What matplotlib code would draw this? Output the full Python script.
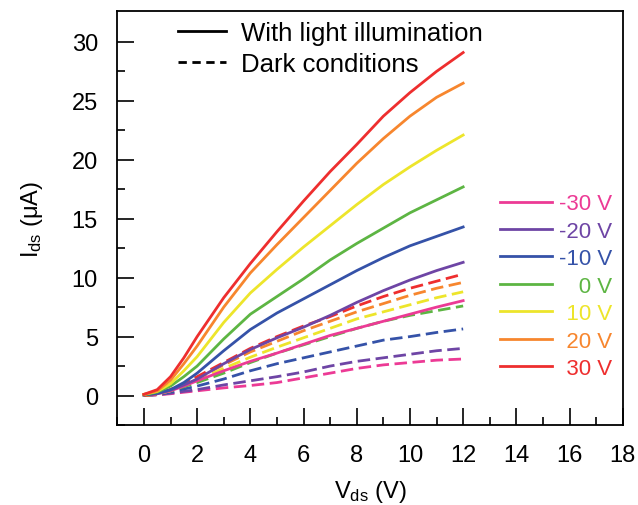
import matplotlib
matplotlib.use("Agg")
from matplotlib import pyplot as plt
from matplotlib.lines import Line2D

plt.rcParams['font.family'] = ['Liberation Sans', 'DejaVu Sans']
plt.rcParams['mathtext.fontset'] = 'custom'
plt.rcParams['mathtext.rm'] = 'Liberation Sans'
plt.rcParams['mathtext.it'] = 'Liberation Sans'

# Vds (V)
vds = [0, 0.5, 1, 1.5, 2, 3, 4, 5, 6, 7, 8, 9, 10, 11, 12]

# gate voltages and colours
gates = ['-30 V', '-20 V', '-10 V', '0 V', '10 V', '20 V', '30 V']
colors = ['#EC3A95', '#6E45A5', '#3552A8', '#5DB543', '#EDE52B', '#F7862E', '#EE2E2E']

# Ids (uA) with light illumination
light_m30 = [0.05, 0.15, 0.4, 0.8, 1.25, 2.1, 2.9, 3.6, 4.35, 5.1, 5.7, 6.3, 6.9, 7.5, 8.05]
light_m20 = [0.05, 0.15, 0.45, 0.9, 1.4, 2.7, 3.9, 4.9, 5.8, 6.8, 7.9, 8.9, 9.8, 10.6, 11.3]
light_m10 = [0.05, 0.2, 0.5, 1.1, 1.9, 3.8, 5.6, 7.0, 8.2, 9.4, 10.6, 11.7, 12.7, 13.5, 14.3]
light_0 = [0.05, 0.3, 0.8, 1.6, 2.5, 4.8, 6.9, 8.4, 9.9, 11.5, 12.9, 14.2, 15.5, 16.6, 17.7]
light_10 = [0.1, 0.35, 1.0, 2.1, 3.3, 6.2, 8.7, 10.7, 12.6, 14.4, 16.2, 17.9, 19.4, 20.8, 22.1]
light_20 = [0.1, 0.4, 1.3, 2.7, 4.2, 7.5, 10.4, 12.8, 15.1, 17.4, 19.7, 21.8, 23.7, 25.3, 26.5]
light_30 = [0.1, 0.5, 1.6, 3.2, 5.0, 8.3, 11.2, 13.9, 16.5, 19.0, 21.3, 23.7, 25.7, 27.5, 29.1]

# Ids (uA) in dark conditions
dark_m30 = [0, 0.05, 0.15, 0.28, 0.4, 0.65, 0.85, 1.1, 1.5, 1.9, 2.3, 2.6, 2.8, 3.0, 3.1]
dark_m20 = [0, 0.07, 0.2, 0.35, 0.5, 0.9, 1.25, 1.6, 2.0, 2.5, 2.9, 3.2, 3.5, 3.8, 4.0]
dark_m10 = [0, 0.1, 0.3, 0.55, 0.8, 1.4, 2.1, 2.7, 3.2, 3.7, 4.2, 4.7, 5.0, 5.35, 5.65]
dark_0 = [0, 0.12, 0.4, 0.75, 1.1, 1.9, 2.8, 3.6, 4.3, 5.0, 5.7, 6.3, 6.8, 7.2, 7.6]
dark_10 = [0, 0.12, 0.4, 0.85, 1.3, 2.3, 3.25, 4.1, 4.9, 5.7, 6.5, 7.1, 7.7, 8.3, 8.8]
dark_20 = [0, 0.15, 0.5, 1.0, 1.5, 2.6, 3.7, 4.6, 5.5, 6.3, 7.1, 7.8, 8.5, 9.1, 9.6]
dark_30 = [0, 0.15, 0.5, 1.0, 1.6, 2.8, 4.0, 5.0, 5.9, 6.7, 7.6, 8.4, 9.1, 9.7, 10.3]

light = [light_m30, light_m20, light_m10, light_0, light_10, light_20, light_30]
dark = [dark_m30, dark_m20, dark_m10, dark_0, dark_10, dark_20, dark_30]

fig = plt.figure(figsize=(6.38, 5.06), dpi=100)
ax = fig.add_axes([0.1839, 0.1581, 0.7922, 0.8176])

handles = []
for ys, c in zip(dark, colors):
    ax.plot(vds, ys, color=c, lw=2.0, dashes=(4.5, 2.0))
for ys, c in zip(light, colors):
    h, = ax.plot(vds, ys, color=c, lw=2.0)
    handles.append(h)

ax.set_xlim(-1, 18)
ax.set_ylim(-2.5, 32.6)
ax.set_xticks(range(0, 19, 2))
ax.set_xticks(range(-1, 18, 1), minor=True)
ax.set_yticks(range(0, 31, 5))
ax.set_yticks([2.5 * i for i in range(-1, 13)], minor=True)
ax.tick_params(which='both', direction='in', top=False, right=False,
               labelsize=17, width=1.2, pad=14)
ax.tick_params(which='major', length=12)
ax.tick_params(which='minor', length=6)
for s in ax.spines.values():
    s.set_linewidth(1.3)

ax.set_xlabel(r'V$_{\mathrm{ds}}$ (V)', fontsize=17, labelpad=8)
ax.set_ylabel(r'I$_{\mathrm{ds}}$ (μA)', fontsize=17, labelpad=19)

# line style legend
style_handles = [Line2D([], [], color='black', lw=2.0),
                 Line2D([], [], color='black', lw=2.0, dashes=(3.0, 2.0))]
leg1 = ax.legend(style_handles, ['With light illumination', 'Dark conditions'],
                 loc='upper left', bbox_to_anchor=(0.12, 0.976), frameon=False,
                 fontsize=18.5, handlelength=1.85, handletextpad=0.62,
                 labelspacing=0.27, borderpad=0, borderaxespad=0)
ax.add_artist(leg1)

# gate voltage legend, labels padded so they end on the right
pad_labels = ['-30 V', '-20 V', '-10 V', '\u2007\u20040 V', '\u200410 V', '\u200420 V', '\u200430 V']
leg2 = ax.legend(handles, pad_labels, loc='upper left', bbox_to_anchor=(0.757, 0.56),
                 frameon=False, fontsize=16, handlelength=2.35, handletextpad=0.3,
                 labelspacing=0.29, borderpad=0, borderaxespad=0)
for t, c in zip(leg2.get_texts(), colors):
    t.set_color(c)

fig.savefig('out.png', dpi=100)
